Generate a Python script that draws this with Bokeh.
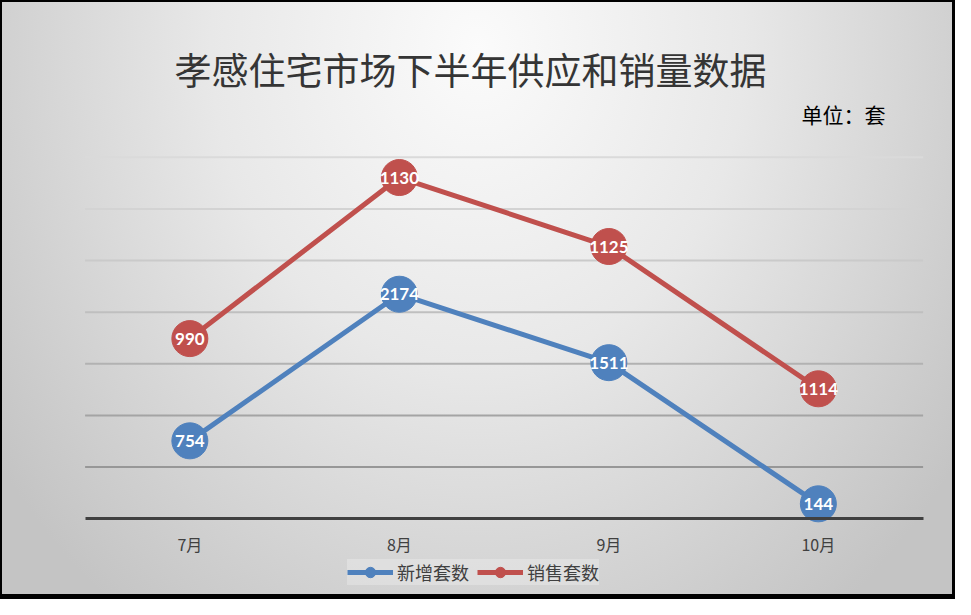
from bokeh.plotting import figure
from bokeh.models import Range1d, Label, Legend, LegendItem, ColumnDataSource, FixedTicker, LinearAxis
from bokeh.core.properties import value
from bokeh.embed import file_html
from bokeh.resources import INLINE

# ---- data ----
months = ["7月", "8月", "9月", "10月"]
new_units = [754, 2174, 1511, 144]      # 新增套数
sold_units = [990, 1130, 1125, 1114]    # 销售套数 (stacked on top of 新增套数)
series_names = ["新增套数", "销售套数"]
grid_values = [500, 1000, 1500, 2000, 2500, 3000, 3500]
title_text = "孝感住宅市场下半年供应和销量数据"
unit_text = "单位：套"

# ---- styles / layout ----
BLUE = "#4F81BD"
RED = "#C0504D"
grid_colors = ["#979797", "#a4a4a4", "#b2b2b2", "#bfbfbf", "#cacaca", "#d3d3d3", "#dadada"]
CJK = "Noto Sans CJK SC"

W, H = 955, 599
FRAME_L = 84.6          # px, left edge of plot area
BAND = 209.5            # px per category band
BASE_Y = 518.2          # px from top where value 0 sits
PX_PER_UNIT = 361.4 / 3500
n = len(months)

# the frame covers the whole figure; ranges chosen so the plot area sits where the reference has it
p = figure(width=W, height=H,
           x_range=Range1d(-FRAME_L / BAND, (W - FRAME_L) / BAND),
           y_range=Range1d(-(H - BASE_Y) / PX_PER_UNIT, BASE_Y / PX_PER_UNIT),
           output_backend="svg", toolbar_location=None, x_axis_type=None, y_axis_type=None,
           min_border=0)
p.background_fill_color = None
p.border_fill_color = None
p.outline_line_color = None
p.styles = {
    "background": "radial-gradient(ellipse 62% 118% at 50% 8%, #fbfbfb 0%, #e8e8e8 45%, #c4c4c4 100%)",
    "box-shadow": "inset 2px 2px 0 0 #000, inset -3px -5px 0 0 #000",
}
p.xgrid.visible = False
p.ygrid.visible = False

xpos = [i + 0.5 for i in range(n)]

# horizontal gridlines across the category bands
p.segment(x0=[0] * len(grid_values), x1=[n] * len(grid_values), y0=grid_values, y1=grid_values,
          line_color=grid_colors, line_width=2)

# category axis fixed at value 0
ax = LinearAxis(fixed_location=0, bounds=(0, n))
ax.ticker = FixedTicker(ticks=xpos)
ax.major_label_overrides = {x: m for x, m in zip(xpos, months)}
ax.axis_line_color = "#404040"
ax.axis_line_width = 3
ax.major_tick_line_color = None
ax.minor_tick_line_color = None
ax.major_tick_in = 0
ax.major_tick_out = 0
ax.major_label_standoff = 13
ax.major_label_text_font = CJK
ax.major_label_text_font_size = "16px"
ax.major_label_text_color = "#404040"
p.add_layout(ax, "below")

stack_top = [a + b for a, b in zip(new_units, sold_units)]

src_b = ColumnDataSource(dict(x=xpos, y=new_units, t=[str(v) for v in new_units]))
src_r = ColumnDataSource(dict(x=xpos, y=stack_top, t=[str(v) for v in sold_units]))

lb = p.line("x", "y", source=src_b, line_color=BLUE, line_width=5)
cb = p.scatter("x", "y", source=src_b, size=36, fill_color=BLUE, line_color=BLUE)
lr = p.line("x", "y", source=src_r, line_color=RED, line_width=5)
cr = p.scatter("x", "y", source=src_r, size=36, fill_color=RED, line_color=RED)

for src in (src_b, src_r):
    p.text("x", "y", text="t", source=src, text_color="white", text_font=value("Lato"),
           text_font_style="bold", text_font_size="17px", text_align="center",
           text_baseline="middle")

p.add_layout(Label(x=470, y=H - 68, x_units="screen", y_units="screen", text=title_text,
                   text_font=CJK, text_font_size="37px", text_color="#353535",
                   text_align="center", text_baseline="middle"))
p.add_layout(Label(x=801, y=H - 113, x_units="screen", y_units="screen", text=unit_text,
                   text_font=CJK, text_font_size="21px", text_color="#000000",
                   text_align="left", text_baseline="middle"))

legend = Legend(items=[LegendItem(label=series_names[0], renderers=[lb, cb]),
                       LegendItem(label=series_names[1], renderers=[lr, cr])],
                orientation="horizontal", location=(347, 14),
                glyph_width=46, glyph_height=26, label_standoff=4, spacing=8,
                padding=4, margin=0,
                label_text_font=CJK, label_text_font_size="18px", label_text_color="#404040",
                background_fill_color="white", background_fill_alpha=0.25,
                border_line_color=None)
p.add_layout(legend, "center")

open("out.html", "w").write(file_html(p, INLINE))
